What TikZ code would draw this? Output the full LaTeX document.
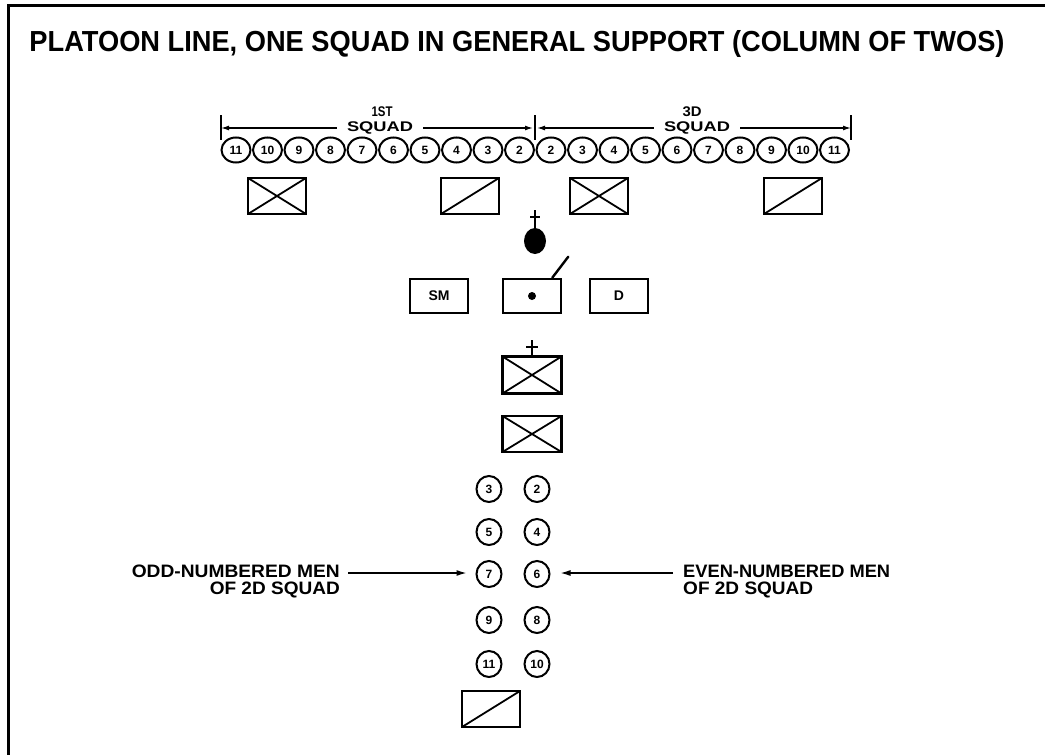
\documentclass[tikz,border=0pt]{standalone}
\usepackage{fontspec}
\setmainfont{Liberation Sans}
\usetikzlibrary{arrows.meta,shapes.geometric}
\newcommand\fitw[2]{\resizebox{#1pt}{\height}{#2}}
\tikzset{
  man/.style={draw, ellipse, line width=2pt, minimum width=29pt, minimum height=25pt, inner sep=0pt, font=\fontsize{12}{12}\selectfont\bfseries},
  cman/.style={man, minimum width=25pt, minimum height=26pt},
  veh/.style={draw, rectangle, line width=2.6pt, minimum width=58pt, minimum height=36pt, inner sep=0pt},
  vehx/.style={veh, path picture={\draw[line width=1.8pt] (path picture bounding box.south west) -- (path picture bounding box.north east) (path picture bounding box.north west) -- (path picture bounding box.south east);}},
  vehs/.style={veh, path picture={\draw[line width=1.8pt] (path picture bounding box.south west) -- (path picture bounding box.north east);}},
  lbl/.style={inner sep=0pt, font=\bfseries},
  dimline/.style={line width=1.3pt, -{Latex[length=8pt,width=5pt]}},
  tickline/.style={line width=1.3pt},
  pointer/.style={line width=1.3pt, -{Latex[length=10pt,width=6pt]}},
  sym/.style={line width=2pt}
}
\begin{document}
\begin{tikzpicture}[x=1pt,y=-1pt]
\useasboundingbox (0,0) rectangle (1045,755);
% frame
\coordinate (fbl) at (8,755);
\coordinate (ftl) at (8,5);
\coordinate (ftr) at (1045,5);
\draw[line width=3pt] (fbl) -- (ftl) -- (ftr);
% title
\node[lbl] (title) at (517,44) {\fitw{975}{\fontsize{29}{29}\selectfont\bfseries PLATOON LINE, ONE SQUAD IN GENERAL SUPPORT (COLUMN OF TWOS)}};
% squad headers
\node[lbl] (h1) at (382,112) {\fitw{21}{\fontsize{14}{14}\selectfont\bfseries 1ST}};
\node[lbl] (h3) at (692,112) {\fitw{19}{\fontsize{14}{14}\selectfont\bfseries 3D}};
\node[lbl, inner xsep=10pt] (sqL) at (380,128) {\fitw{66}{\fontsize{14}{14}\selectfont\bfseries SQUAD}};
\node[lbl, inner xsep=10pt] (sqR) at (697,128) {\fitw{66}{\fontsize{14}{14}\selectfont\bfseries SQUAD}};
\coordinate (t1a) at (221,115); \coordinate (t1b) at (221,140);
\coordinate (t2a) at (535,115); \coordinate (t2b) at (535,140);
\coordinate (t3a) at (851,115); \coordinate (t3b) at (851,140);
\draw[tickline] (t1a) -- (t1b);
\draw[tickline] (t2a) -- (t2b);
\draw[tickline] (t3a) -- (t3b);
\draw[dimline] (sqL.west) -- (sqL.west -| t1a);
\draw[dimline] (sqL.east) -- ([xshift=-2pt]sqL.east -| t2a);
\draw[dimline] (sqR.west) -- ([xshift=2pt]sqR.west -| t2a);
\draw[dimline] (sqR.east) -- (sqR.east -| t3a);
% front rank of men
\foreach \n [count=\i from 0] in {11,10,...,2} {
  \node[man] (L\n) at ({236+31.5*\i},150) {\n};
}
\foreach \n [count=\i from 0] in {2,3,...,11} {
  \node[man] (R\n) at ({551+31.5*\i},150) {\n};
}
% vehicles, first line
\node[vehx] (v1) at (277,196) {};
\node[vehs] (v2) at (470,196) {};
\node[vehx] (v3) at (599,196) {};
\node[vehs] (v4) at (793,196) {};
% platoon leader
\node[ellipse, fill, minimum width=22pt, minimum height=26pt, inner sep=0pt] (pl) at (535,241) {};
\coordinate (plt) at (535,210);
\draw[sym] (pl.north) -- (plt);
\draw[sym] (plt) ++(-5,7) -- ++(10,0);
% SM, command, D
\node[veh, minimum height=34pt, font=\fontsize{14}{14}\selectfont\bfseries] (sm) at (439,296) {SM};
\node[veh, minimum height=34pt] (cmd) at (532,296) {};
\fill (cmd.center) circle (4);
\draw[line width=2.4pt, line cap=round] ([xshift=-10pt]cmd.north east) -- ++(16,-21);
\node[veh, minimum height=34pt, font=\fontsize{14}{14}\selectfont\bfseries] (dd) at (619,296) {D};
% column vehicles
\node[vehx, minimum width=59pt, minimum height=37pt] (va) at (532,375) {};
\coordinate (vat) at (532,340);
\draw[sym] (va.north) -- (vat);
\draw[sym] (vat) ++(-6,7) -- ++(12,0);
\node[vehx, minimum width=59pt] (vb) at (532,434) {};
% column of twos
\foreach \a/\b/\yy in {3/2/489,5/4/532,7/6/574,9/8/620,11/10/664} {
  \node[cman] (co\a) at (489,\yy) {\a};
  \node[cman] (ce\b) at (537,\yy) {\b};
}
\node[vehs] (vc) at (491,709) {};
% labels
\node[lbl, anchor=east] (odd1) at (340,571) {\fitw{208}{\fontsize{18}{18}\selectfont\bfseries ODD-NUMBERED MEN}};
\node[lbl, anchor=east] (odd2) at (340,590) {\fitw{130}{\fontsize{18}{18}\selectfont\bfseries OF 2D SQUAD}};
\node[lbl, anchor=west] (even1) at (683,571) {\fitw{207}{\fontsize{18}{18}\selectfont\bfseries EVEN-NUMBERED MEN}};
\node[lbl, anchor=west] (even2) at (683,590) {\fitw{130}{\fontsize{18}{18}\selectfont\bfseries OF 2D SQUAD}};
\draw[pointer, shorten <=8pt, shorten >=9pt] ([yshift=-2pt]odd1.east) -- ([yshift=-2pt]odd1.east -| co7.west);
\draw[pointer, shorten <=10pt, shorten >=10pt] ([yshift=-2pt]even1.west) -- ([yshift=-2pt]even1.west -| ce6.east);
\end{tikzpicture}
\end{document}
